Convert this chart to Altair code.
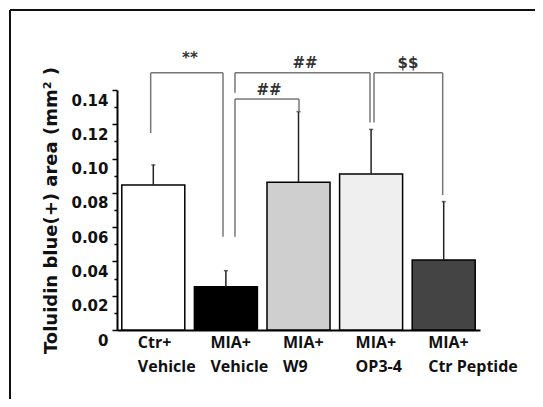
import altair as alt
import pandas as pd

# ---- data ----
categories = ["Ctr+|Vehicle", "MIA+|Vehicle", "MIA+|W9", "MIA+|OP3-4", "MIA+|Ctr Peptide"]
means = [0.0846, 0.0253, 0.0862, 0.0910, 0.0408]
errors = [0.0117, 0.0093, 0.0412, 0.0260, 0.0341]
fills = ["#ffffff", "#000000", "#cfcfcf", "#efefef", "#444444"]

# significance brackets: segments (x in group-index units, y in data units)
seg_x1 = [-0.036, -0.036, 0.960, 1.125, 1.125, 2.985, 1.125, 1.125, 2.007, 3.040, 3.040, 3.986]
seg_x2 = [-0.036, 0.960, 0.960, 1.125, 2.985, 2.985, 1.125, 2.007, 2.007, 3.040, 3.986, 3.986]
seg_y1 = [0.1149, 0.1500, 0.1500, 0.1500, 0.1500, 0.1500, 0.1347, 0.1347, 0.1347, 0.1500, 0.1500, 0.1500]
seg_y2 = [0.1500, 0.1500, 0.0544, 0.1384, 0.1500, 0.1210, 0.0544, 0.1347, 0.1273, 0.1210, 0.1500, 0.0787]

sig_labels = ["**", "##", "##", "$$"]
sig_x = [0.505, 2.09, 1.594, 3.508]
sig_y = [0.1585, 0.1560, 0.1400, 0.1560]

half_width = 0.434

bars = pd.DataFrame({
    "idx": list(range(len(categories))),
    "cat": categories,
    "mean": means,
    "top": [m + e for m, e in zip(means, errors)],
    "fill": fills,
})
bars["lo"] = bars["idx"] - half_width
bars["hi"] = bars["idx"] + half_width

segs = pd.DataFrame({"x1": seg_x1, "x2": seg_x2, "y1": seg_y1, "y2": seg_y2})
sig = pd.DataFrame({"label": sig_labels, "x": sig_x, "y": sig_y})

xscale = alt.Scale(domain=[-0.5, 4.5], nice=False, zero=False)
yscale = alt.Scale(domain=[0, 0.14], nice=False)

cats_js = "[" + ",".join("'" + c + "'" for c in categories) + "]"

x_axis = alt.Axis(
    values=list(range(len(categories))),
    labelExpr="split(" + cats_js + "[datum.value], '|')",
    labelAlign="left",
    labelOffset=-16,
    labelBaseline="top",
    labelPadding=4,
    labelLineHeight=24,
    labelFont="Open Sans",
    labelFontWeight="bold",
    labelFontSize=16,
    labelColor="#111111",
    labelFlush=False,
    labelOverlap=False,
    labelBound=False,
    ticks=False,
    grid=False,
    domainColor="#000000",
    domainWidth=2,
    title=None,
)

y_axis = alt.Axis(
    values=[i / 100 for i in range(0, 15)],
    labelExpr="round(datum.value*100) % 2 == 0 ? (datum.value == 0 ? '0' : format(datum.value, '.2f')) : ''",
    labelFont="DejaVu Sans",
    labelFontWeight="bold",
    labelFontSize=15,
    labelColor="#111111",
    labelOffset=10,
    labelPadding=4,
    labelOverlap=False,
    labelFlush=False,
    tickColor="#000000",
    tickSize={"condition": {"test": "round(datum.value*100) % 2 == 0", "value": 5}, "value": 3},
    tickWidth=1.5,
    domainColor="#000000",
    domainWidth=2,
    grid=False,
    title="Toluidin blue(+) area (mm² )",
    titleFont="DejaVu Sans",
    titleFontWeight="bold",
    titleFontSize=18,
    titleColor="#111111",
    titlePadding=10,
)

base_bar = alt.Chart(bars).mark_rect(stroke="#000000", strokeWidth=1.5).encode(
    x=alt.X("lo:Q", scale=xscale, axis=x_axis),
    x2="hi:Q",
    y=alt.Y("mean:Q", scale=yscale, axis=y_axis),
    y2=alt.datum(0),
    fill=alt.Fill("fill:N", scale=None),
)

err = alt.Chart(bars).mark_rule(color="#222222", strokeWidth=1.5).encode(
    x=alt.X("idx:Q", scale=xscale, axis=x_axis),
    y=alt.Y("mean:Q", scale=yscale, axis=y_axis),
    y2="top:Q",
)

cap = alt.Chart(bars).mark_tick(color="#222222", thickness=1.5, size=4, orient="horizontal").encode(
    x=alt.X("idx:Q", scale=xscale, axis=x_axis),
    y=alt.Y("top:Q", scale=yscale, axis=y_axis),
)

brackets = alt.Chart(segs).mark_rule(color="#777777", strokeWidth=1.5).encode(
    x=alt.X("x1:Q", scale=xscale, axis=x_axis),
    x2="x2:Q",
    y=alt.Y("y1:Q", scale=yscale, axis=y_axis),
    y2="y2:Q",
)

sig_text = alt.Chart(sig).mark_text(
    font="DejaVu Sans", fontSize=15, fontWeight="bold", color="#333333", baseline="middle"
).encode(
    x=alt.X("x:Q", scale=xscale, axis=x_axis),
    y=alt.Y("y:Q", scale=yscale, axis=y_axis),
    text="label:N",
)

frame_top = alt.Chart(bars).mark_rule(color="#111111", strokeWidth=2).encode(
    x=alt.value(-107), x2=alt.value(440), y=alt.value(-80)
)
frame_left = alt.Chart(bars).mark_rule(color="#111111", strokeWidth=2).encode(
    x=alt.value(-107), y=alt.value(-80), y2=alt.value(330)
)

chart = alt.layer(
    base_bar, err, cap, brackets, sig_text, frame_top, frame_left
).properties(
    width=363,
    height=240,
    padding={"left": 109, "top": 82, "right": 55, "bottom": 69},
    autosize=alt.AutoSizeParams(type="none"),
).configure(background="#ffffff", view=alt.ViewConfig(stroke=None))

chart.save("out.html", embed_options={"renderer": "svg", "actions": False})
